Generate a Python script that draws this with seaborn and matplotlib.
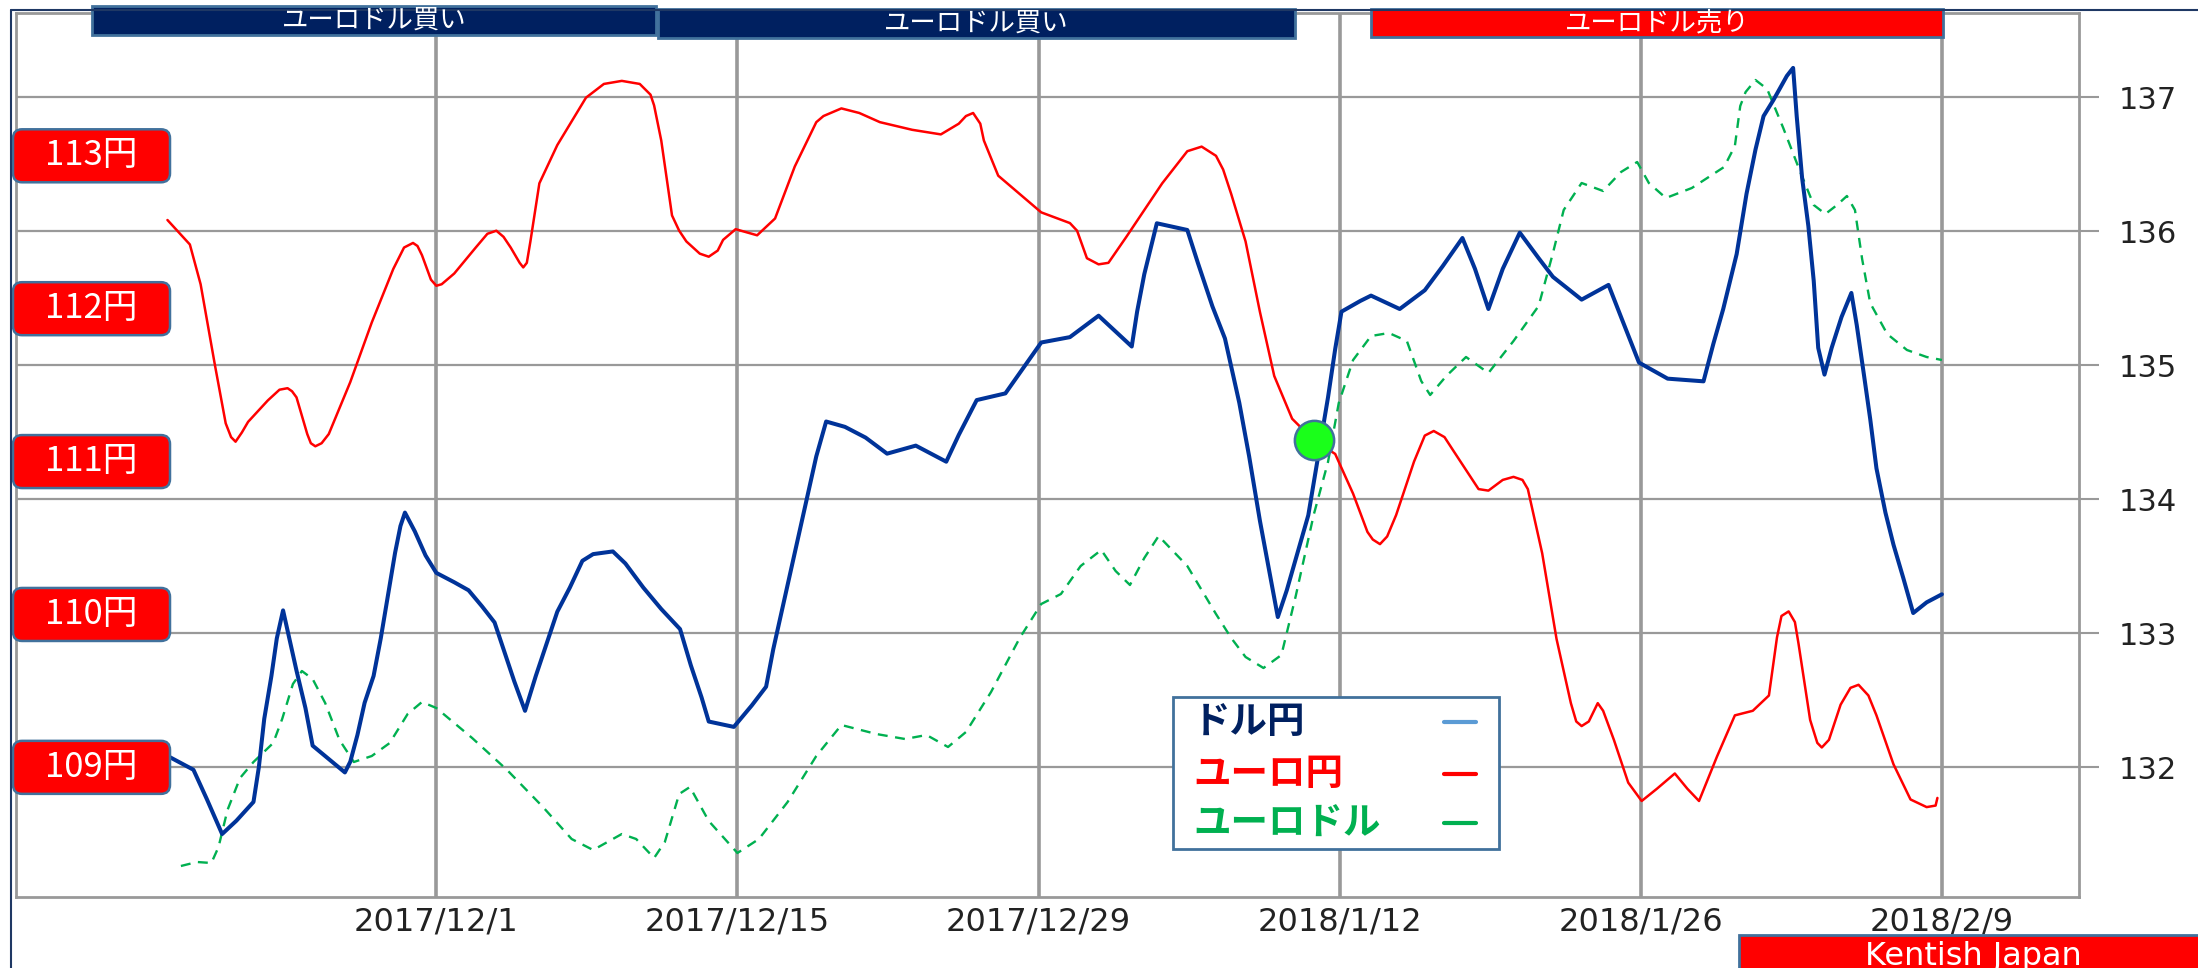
import pandas as pd
import matplotlib
matplotlib.use('Agg')
import matplotlib.pyplot as plt
from matplotlib.patches import Rectangle, FancyBboxPatch
from matplotlib.lines import Line2D
import seaborn as sns

sns.set_theme(style='white')
plt.rcParams['font.family'] = ['DejaVu Sans', 'Noto Sans CJK JP']
JP = ['Noto Sans CJK JP', 'DejaVu Sans']

# ---------------- データ ----------------
# 青線（ドル円、右目盛 132-137 に対応）
dollar_yen_times = [
    '2017-11-18 13:00', '2017-11-19 17:00', '2017-11-20 08:00', '2017-11-21 01:00', '2017-11-21 17:00',
    '2017-11-22 12:00', '2017-11-22 18:00', '2017-11-23 00:00', '2017-11-23 08:00', '2017-11-23 14:00',
    '2017-11-23 21:00', '2017-11-24 04:00', '2017-11-24 12:00', '2017-11-24 22:00', '2017-11-25 06:00',
    '2017-11-26 00:00', '2017-11-26 18:00', '2017-11-27 00:00', '2017-11-27 08:00', '2017-11-27 16:00',
    '2017-11-28 02:00', '2017-11-28 10:00', '2017-11-28 18:00', '2017-11-29 02:00', '2017-11-29 08:00',
    '2017-11-29 13:00', '2017-11-30 00:00', '2017-11-30 12:00', '2017-12-01 00:00', '2017-12-01 20:00',
    '2017-12-02 12:00', '2017-12-03 03:00', '2017-12-03 17:00', '2017-12-04 03:00', '2017-12-04 15:00',
    '2017-12-05 03:00', '2017-12-05 15:00', '2017-12-06 03:00', '2017-12-06 15:00', '2017-12-07 05:00',
    '2017-12-07 19:00', '2017-12-08 07:00', '2017-12-09 05:00', '2017-12-09 19:00', '2017-12-10 15:00',
    '2017-12-11 11:00', '2017-12-12 08:00', '2017-12-12 20:00', '2017-12-13 08:00', '2017-12-13 16:00',
    '2017-12-14 20:00', '2017-12-15 16:00', '2017-12-16 08:00', '2017-12-16 16:00', '2017-12-17 04:00',
    '2017-12-17 16:00', '2017-12-18 04:00', '2017-12-18 16:00', '2017-12-19 03:00', '2017-12-20 00:00',
    '2017-12-20 23:00', '2017-12-21 23:00', '2017-12-23 07:00', '2017-12-24 17:00', '2017-12-25 07:00',
    '2017-12-26 03:00', '2017-12-27 11:00', '2017-12-28 07:00', '2017-12-29 03:00', '2017-12-30 11:00',
    '2017-12-31 19:00', '2018-01-02 08:00', '2018-01-02 14:00', '2018-01-02 22:00', '2018-01-03 12:00',
    '2018-01-04 22:00', '2018-01-05 10:00', '2018-01-06 02:00', '2018-01-06 16:00', '2018-01-07 08:00',
    '2018-01-07 19:00', '2018-01-08 07:00', '2018-01-08 17:00', '2018-01-09 03:00', '2018-01-09 13:00',
    '2018-01-10 01:00', '2018-01-10 13:00', '2018-01-10 23:00', '2018-01-11 11:00', '2018-01-11 19:00',
    '2018-01-12 02:00', '2018-01-12 23:00', '2018-01-13 11:00', '2018-01-14 19:00', '2018-01-15 23:00',
    '2018-01-16 19:00', '2018-01-17 17:00', '2018-01-18 07:00', '2018-01-18 22:00', '2018-01-19 14:00',
    '2018-01-20 09:00', '2018-01-21 06:00', '2018-01-21 22:00', '2018-01-23 06:00', '2018-01-24 12:00',
    '2018-01-25 02:00', '2018-01-25 22:00', '2018-01-27 06:00', '2018-01-28 22:00', '2018-01-29 09:00',
    '2018-01-29 20:00', '2018-01-30 11:00', '2018-01-30 22:00', '2018-01-31 08:00', '2018-01-31 17:00',
    '2018-02-01 04:00', '2018-02-01 19:00', '2018-02-02 02:00', '2018-02-02 06:00', '2018-02-02 12:00',
    '2018-02-02 19:00', '2018-02-03 01:00', '2018-02-03 06:00', '2018-02-03 13:00', '2018-02-03 21:00',
    '2018-02-04 08:00', '2018-02-04 19:00', '2018-02-05 01:00', '2018-02-05 09:00', '2018-02-05 16:00',
    '2018-02-05 23:00', '2018-02-06 09:00', '2018-02-06 18:00', '2018-02-07 05:00', '2018-02-07 16:00',
    '2018-02-08 07:00', '2018-02-09 00:00',
]
dollar_yen_values = [
    132.08, 131.98, 131.76, 131.50, 131.60, 131.74, 132.00, 132.36, 132.68, 132.96,
    133.17, 132.96, 132.72, 132.44, 132.16, 132.06, 131.96, 132.04, 132.24, 132.48,
    132.68, 132.96, 133.28, 133.60, 133.80, 133.90, 133.76, 133.58, 133.45, 133.38,
    133.32, 133.20, 133.08, 132.88, 132.64, 132.42, 132.68, 132.92, 133.16, 133.34,
    133.54, 133.59, 133.61, 133.52, 133.34, 133.18, 133.03, 132.76, 132.52, 132.34,
    132.30, 132.46, 132.60, 132.88, 133.24, 133.60, 133.96, 134.32, 134.58, 134.54,
    134.46, 134.34, 134.40, 134.28, 134.48, 134.74, 134.79, 134.98, 135.17, 135.21,
    135.37, 135.14, 135.40, 135.68, 136.06, 136.01, 135.76, 135.44, 135.20, 134.72,
    134.32, 133.84, 133.48, 133.12, 133.32, 133.60, 133.88, 134.28, 134.76, 135.12,
    135.40, 135.48, 135.52, 135.42, 135.56, 135.74, 135.95, 135.72, 135.42, 135.72,
    135.99, 135.80, 135.66, 135.49, 135.60, 135.36, 135.02, 134.90, 134.88, 135.16,
    135.42, 135.83, 136.28, 136.61, 136.86, 136.98, 137.16, 137.22, 136.86, 136.40,
    136.04, 135.63, 135.13, 134.93, 135.13, 135.36, 135.54, 135.30, 134.93, 134.60,
    134.23, 133.90, 133.66, 133.41, 133.15, 133.23, 133.29,
]

# 赤線（ユーロ円、左の 109円〜113円 ラベルに対応）
euro_yen_times = [
    '2017-11-18 12:00', '2017-11-19 13:00', '2017-11-20 01:00', '2017-11-20 17:00', '2017-11-21 05:00',
    '2017-11-21 11:00', '2017-11-21 16:00', '2017-11-21 23:00', '2017-11-22 06:00', '2017-11-23 04:00',
    '2017-11-23 17:00', '2017-11-24 02:00', '2017-11-24 07:00', '2017-11-24 12:00', '2017-11-25 00:00',
    '2017-11-25 04:00', '2017-11-25 09:00', '2017-11-25 16:00', '2017-11-26 00:00', '2017-11-27 00:00',
    '2017-11-28 00:00', '2017-11-29 00:00', '2017-11-29 12:00', '2017-11-29 22:00', '2017-11-30 03:00',
    '2017-11-30 08:00', '2017-11-30 18:00', '2017-12-01 00:00', '2017-12-01 06:00', '2017-12-01 20:00',
    '2017-12-02 20:00', '2017-12-03 09:00', '2017-12-03 19:00', '2017-12-04 03:00', '2017-12-04 11:00',
    '2017-12-04 21:00', '2017-12-05 01:00', '2017-12-05 05:00', '2017-12-05 09:00', '2017-12-05 19:00',
    '2017-12-06 15:00', '2017-12-07 23:00', '2017-12-08 19:00', '2017-12-09 15:00', '2017-12-10 11:00',
    '2017-12-10 23:00', '2017-12-11 03:00', '2017-12-11 11:00', '2017-12-11 23:00', '2017-12-12 07:00',
    '2017-12-12 15:00', '2017-12-13 06:00', '2017-12-13 16:00', '2017-12-14 02:00', '2017-12-14 08:00',
    '2017-12-14 22:00', '2017-12-15 22:00', '2017-12-16 18:00', '2017-12-17 16:00', '2017-12-18 16:00',
    '2017-12-19 00:00', '2017-12-19 20:00', '2017-12-20 16:00', '2017-12-21 15:00', '2017-12-23 03:00',
    '2017-12-24 11:00', '2017-12-25 07:00', '2017-12-25 15:00', '2017-12-25 23:00', '2017-12-26 07:00',
    '2017-12-26 11:00', '2017-12-27 03:00', '2017-12-28 07:00', '2017-12-29 03:00', '2017-12-30 11:00',
    '2017-12-30 19:00', '2017-12-31 06:00', '2017-12-31 19:00', '2018-01-01 06:00', '2018-01-02 02:00',
    '2018-01-03 18:00', '2018-01-04 22:00', '2018-01-05 14:00', '2018-01-06 06:00', '2018-01-06 14:00',
    '2018-01-06 23:00', '2018-01-07 15:00', '2018-01-08 07:00', '2018-01-08 23:00', '2018-01-09 19:00',
    '2018-01-10 19:00', '2018-01-11 19:00', '2018-01-12 15:00', '2018-01-13 07:00', '2018-01-13 13:00',
    '2018-01-13 21:00', '2018-01-14 05:00', '2018-01-14 15:00', '2018-01-15 11:00', '2018-01-15 23:00',
    '2018-01-16 09:00', '2018-01-16 21:00', '2018-01-17 07:00', '2018-01-18 11:00', '2018-01-18 22:00',
    '2018-01-19 14:00', '2018-01-20 02:00', '2018-01-20 12:00', '2018-01-20 18:00', '2018-01-21 10:00',
    '2018-01-22 02:00', '2018-01-22 18:00', '2018-01-23 00:00', '2018-01-23 06:00', '2018-01-23 14:00',
    '2018-01-24 00:00', '2018-01-24 06:00', '2018-01-24 18:00', '2018-01-25 10:00', '2018-01-26 01:00',
    '2018-01-26 18:00', '2018-01-27 14:00', '2018-01-28 04:00', '2018-01-28 17:00', '2018-01-29 13:00',
    '2018-01-30 09:00', '2018-01-31 05:00', '2018-01-31 23:00', '2018-02-01 08:00', '2018-02-01 13:00',
    '2018-02-01 21:00', '2018-02-02 04:00', '2018-02-02 08:00', '2018-02-02 21:00', '2018-02-03 05:00',
    '2018-02-03 10:00', '2018-02-03 18:00', '2018-02-04 07:00', '2018-02-04 18:00', '2018-02-05 03:00',
    '2018-02-05 14:00', '2018-02-05 23:00', '2018-02-06 18:00', '2018-02-07 13:00', '2018-02-08 07:00',
    '2018-02-08 17:00', '2018-02-08 19:00',
]
euro_yen_values = [
    112.58, 112.42, 112.16, 111.63, 111.25,
    111.16, 111.13, 111.19, 111.26, 111.40,
    111.47, 111.48, 111.46, 111.42, 111.18,
    111.12, 111.10, 111.12, 111.18, 111.52,
    111.91, 112.26, 112.40, 112.43, 112.41,
    112.35, 112.19, 112.15, 112.16, 112.23,
    112.40, 112.49, 112.51, 112.47, 112.40,
    112.30, 112.27, 112.30, 112.44, 112.82,
    113.07, 113.38, 113.47, 113.49, 113.47,
    113.40, 113.33, 113.10, 112.61, 112.51,
    112.44, 112.36, 112.34, 112.38, 112.45,
    112.52, 112.48, 112.59, 112.93, 113.22,
    113.26, 113.31, 113.28, 113.22, 113.17,
    113.14, 113.21, 113.26, 113.28, 113.21,
    113.10, 112.87, 112.73, 112.63, 112.56,
    112.51, 112.33, 112.29, 112.30, 112.47,
    112.82, 113.03, 113.06, 113.00, 112.91,
    112.75, 112.44, 111.98, 111.56, 111.28,
    111.14, 111.05, 110.79, 110.54, 110.49,
    110.46, 110.51, 110.65, 111.00, 111.17,
    111.20, 111.16, 111.07, 110.82, 110.81,
    110.88, 110.90, 110.88, 110.82, 110.40,
    109.84, 109.42, 109.30, 109.27, 109.30,
    109.42, 109.37, 109.18, 108.90, 108.78,
    108.86, 108.96, 108.86, 108.78, 109.07,
    109.34, 109.37, 109.47, 109.85, 109.99,
    110.02, 109.95, 109.81, 109.31, 109.16,
    109.13, 109.18, 109.41, 109.52, 109.54,
    109.47, 109.34, 109.02, 108.79, 108.74,
    108.75, 108.80,
]

# 緑の破線（ユーロドル、目盛なし）
euro_dollar_times = [
    '2017-11-19 03:00', '2017-11-19 21:00', '2017-11-20 13:00', '2017-11-20 21:00', '2017-11-21 07:00',
    '2017-11-21 21:00', '2017-11-22 12:00', '2017-11-23 10:00', '2017-11-23 20:00', '2017-11-24 08:00',
    '2017-11-24 18:00', '2017-11-25 06:00', '2017-11-25 20:00', '2017-11-26 12:00', '2017-11-27 04:00',
    '2017-11-28 00:00', '2017-11-28 20:00', '2017-11-29 16:00', '2017-11-30 08:00', '2017-12-01 00:00',
    '2017-12-02 16:00', '2017-12-04 07:00', '2017-12-05 23:00', '2017-12-07 07:00', '2017-12-08 07:00',
    '2017-12-09 15:00', '2017-12-10 07:00', '2017-12-11 03:00', '2017-12-11 15:00', '2017-12-12 07:00',
    '2017-12-12 19:00', '2017-12-13 16:00', '2017-12-15 00:00', '2017-12-16 00:00', '2017-12-17 08:00',
    '2017-12-18 16:00', '2017-12-19 20:00', '2017-12-21 11:00', '2017-12-22 19:00', '2017-12-23 19:00',
    '2017-12-24 19:00', '2017-12-25 15:00', '2017-12-26 19:00', '2017-12-28 03:00', '2017-12-29 03:00',
    '2017-12-30 01:00', '2017-12-30 23:00', '2017-12-31 22:00', '2018-01-01 14:00', '2018-01-02 06:00',
    '2018-01-02 22:00', '2018-01-03 14:00', '2018-01-04 22:00', '2018-01-06 06:00', '2018-01-06 23:00',
    '2018-01-07 15:00', '2018-01-08 11:00', '2018-01-09 07:00', '2018-01-09 23:00', '2018-01-10 19:00',
    '2018-01-11 11:00', '2018-01-11 23:00', '2018-01-12 15:00', '2018-01-13 11:00', '2018-01-14 07:00',
    '2018-01-15 03:00', '2018-01-15 19:00', '2018-01-16 05:00', '2018-01-16 23:00', '2018-01-17 21:00',
    '2018-01-18 22:00', '2018-01-20 02:00', '2018-01-21 06:00', '2018-01-21 22:00', '2018-01-22 10:00',
    '2018-01-23 06:00', '2018-01-24 06:00', '2018-01-25 02:00', '2018-01-25 20:00', '2018-01-26 09:00',
    '2018-01-27 04:00', '2018-01-28 09:00', '2018-01-29 21:00', '2018-01-30 09:00', '2018-01-30 15:00',
    '2018-01-30 21:00', '2018-01-31 08:00', '2018-01-31 21:00', '2018-02-01 15:00', '2018-02-02 10:00',
    '2018-02-03 01:00', '2018-02-03 14:00', '2018-02-04 03:00', '2018-02-04 14:00', '2018-02-04 23:00',
    '2018-02-05 07:00', '2018-02-05 16:00', '2018-02-06 11:00', '2018-02-07 09:00', '2018-02-08 07:00',
    '2018-02-09 00:00',
]
euro_dollar_values = [
    1.1714, 1.1718, 1.1717, 1.1733, 1.1770, 1.1802, 1.1818, 1.1837, 1.1861, 1.1896,
    1.1909, 1.1901, 1.1877, 1.1840, 1.1818, 1.1824, 1.1837, 1.1866, 1.1878, 1.1872,
    1.1842, 1.1810, 1.1773, 1.1741, 1.1730, 1.1746, 1.1741, 1.1722, 1.1738, 1.1786,
    1.1793, 1.1759, 1.1727, 1.1741, 1.1778, 1.1824, 1.1855, 1.1846, 1.1841, 1.1845,
    1.1833, 1.1848, 1.1888, 1.1942, 1.1976, 1.1986, 1.2014, 1.2030, 1.2009, 1.1995,
    1.2022, 1.2044, 1.2014, 1.1966, 1.1942, 1.1923, 1.1912, 1.1925, 1.1984, 1.2065,
    1.2118, 1.2177, 1.2220, 1.2244, 1.2247, 1.2239, 1.2199, 1.2185, 1.2204, 1.2223,
    1.2207, 1.2239, 1.2274, 1.2327, 1.2370, 1.2397, 1.2389, 1.2408, 1.2418, 1.2397,
    1.2382, 1.2392, 1.2413, 1.2434, 1.2474, 1.2488, 1.2500, 1.2491, 1.2452, 1.2408,
    1.2375, 1.2366, 1.2375, 1.2384, 1.2370, 1.2321, 1.2277, 1.2246, 1.2230, 1.2223,
    1.2220,
]

# 交差点の目印（緑の丸）
signal_time = '2018-01-10 19:00'
signal_value = 111.14

tick_dates = ['2017-12-01', '2017-12-15', '2017-12-29', '2018-01-12', '2018-01-26', '2018-02-09']
tick_labels = ['2017/12/1', '2017/12/15', '2017/12/29', '2018/1/12', '2018/1/26', '2018/2/9']
right_ticks = [132, 133, 134, 135, 136, 137]
yen_levels = [113, 112, 111, 110, 109]
banner_texts = ['ユーロドル買い', 'ユーロドル買い', 'ユーロドル売り']
legend_labels = ['ドル円', 'ユーロ円', 'ユーロドル']

BLUE, RED, GREEN = '#003399', '#FF0000', '#00B050'
NAVY, EDGE, GRID = '#002060', '#41719C', '#999999'

# ---------------- 図 ----------------
W, H = 2198, 968
fig = plt.figure(figsize=(W / 100, H / 100), dpi=100)
fig.patch.set_facecolor('white')
rect = [16 / W, 1 - 897 / H, (2079 - 16) / W, (897 - 13) / H]

ax = fig.add_axes(rect)                 # 枠・グリッド・目盛
ax_g = fig.add_axes(rect, sharex=ax)    # ユーロドル
ax_b = fig.add_axes(rect, sharex=ax)    # ドル円
ax_r = fig.add_axes(rect, sharex=ax)    # ユーロ円 + 目印
for a in (ax_g, ax_b, ax_r):
    a.patch.set_visible(False)

sns.lineplot(x=pd.to_datetime(euro_dollar_times), y=euro_dollar_values, ax=ax_g,
             color=GREEN, linewidth=1.7, linestyle=(0, (4.2, 3.2)),
             estimator=None, sort=False, legend=False)
sns.lineplot(x=pd.to_datetime(dollar_yen_times), y=dollar_yen_values, ax=ax_b,
             color=BLUE, linewidth=2.9, estimator=None, sort=False, legend=False)
sns.lineplot(x=pd.to_datetime(euro_yen_times), y=euro_yen_values, ax=ax_r,
             color=RED, linewidth=1.8, estimator=None, sort=False, legend=False)
ax_r.scatter([pd.Timestamp(signal_time)], [signal_value], s=800, color='#1AFF1A',
             edgecolor=EDGE, linewidth=1.8, zorder=10)

ax.set_xlim(pd.Timestamp('2017-11-11 11:00'), pd.Timestamp('2018-02-15 09:00'))
ax.set_ylim(131.03, 137.63)
ax_b.set_ylim(131.03, 137.63)
ax_r.set_ylim(108.152, 113.934)
ax_g.set_ylim(1.1683, 1.2567)

for a in (ax_g, ax_b, ax_r):
    a.axis('off')

ax.set_xticks(pd.to_datetime(tick_dates))
ax.set_xticklabels(tick_labels)
ax.set_yticks(right_ticks)
ax.set_yticklabels([str(v) for v in right_ticks])
ax.yaxis.tick_right()
ax.grid(axis='x', color=GRID, linewidth=2.6)
ax.grid(axis='y', color=GRID, linewidth=1.6)
ax.set_axisbelow(True)
for s in ax.spines.values():
    s.set_visible(True)
    s.set_color(GRID)
    s.set_linewidth(2)
ax.tick_params(axis='y', right=True, left=False, length=14.4, width=1.5, color=GRID,
               pad=14, labelsize=22, labelcolor='#222222')
ax.tick_params(axis='x', bottom=False, length=0, pad=7, labelsize=23, labelcolor='#222222')
ax.set_xlabel('')
ax.set_ylabel('')


def fx(px):
    return px / W


def fy(py):
    return 1 - py / H


# 外側の紺色の枠線
fig.add_artist(Line2D([fx(11), fx(11)], [0, fy(10)], color='#1F3864', linewidth=1.5))
fig.add_artist(Line2D([fx(11), 1], [fy(10), fy(10)], color='#1F3864', linewidth=1.5))

# 上部バナー
banners = [(92, 656, 6, 35, NAVY), (658, 1295, 9, 38, NAVY), (1371, 1943, 9, 37, RED)]
for (x0, x1, y0, y1, fc), txt in zip(banners, banner_texts):
    fig.add_artist(Rectangle((fx(x0), fy(y1)), fx(x1 - x0), (y1 - y0) / H,
                             facecolor=fc, edgecolor=EDGE, linewidth=2, transform=fig.transFigure))
    fig.text(fx((x0 + x1) / 2), fy((y0 + y1) / 2), txt, ha='center', va='center',
             color='white', fontsize=19, family=JP)

# 左の円ラベル
x_left = ax_r.get_xlim()[0]
for yen in yen_levels:
    yc = ax_r.transData.transform((x_left, yen))[1] / H
    fig.add_artist(FancyBboxPatch((fx(13), yc - 26.5 / H), fx(157), 53 / H,
                                  boxstyle=f'round,pad=0,rounding_size={9 / W}',
                                  mutation_aspect=W / H, transform=fig.transFigure,
                                  facecolor=RED, edgecolor=EDGE, linewidth=1.8))
    fig.text(fx(91.5), yc, f'{yen}円', ha='center', va='center', color='white',
             fontsize=25, family=JP)

# 凡例
fig.add_artist(Rectangle((fx(1173), fy(849)), fx(1499 - 1173), (849 - 697) / H,
                         facecolor='white', edgecolor=EDGE, linewidth=2,
                         transform=fig.transFigure, zorder=20))
legend_text_colors = [NAVY, RED, GREEN]
legend_line_colors = ['#5B9BD5', RED, GREEN]
for lab, tc, lc, yy in zip(legend_labels, legend_text_colors, legend_line_colors, [722, 774, 823]):
    fig.text(fx(1193), fy(yy), lab, ha='left', va='center', color=tc, fontsize=27,
             fontweight='bold', family=JP, zorder=21)
    fig.add_artist(Line2D([fx(1444), fx(1476)], [fy(yy), fy(yy)], color=lc,
                          linewidth=3, zorder=21))

# 右下のクレジット
fig.add_artist(Rectangle((fx(1739), fy(990)), fx(470), (990 - 935) / H,
                         facecolor=RED, edgecolor=EDGE, linewidth=2, transform=fig.transFigure))
fig.text(fx(1973), fy(965), 'Kentish Japan', ha='center', va='baseline', color='white',
         fontsize=23)

fig.savefig('out.png', dpi=100, facecolor='white')
